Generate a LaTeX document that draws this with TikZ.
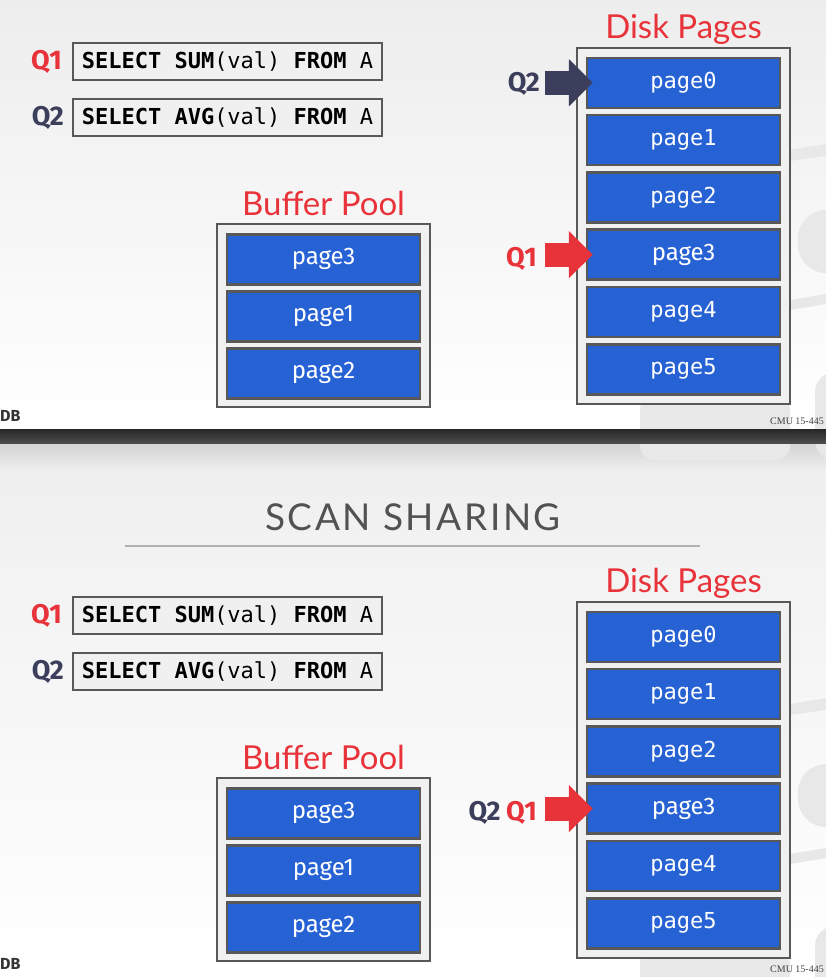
\documentclass[tikz,border=0pt]{standalone}
\usepackage{fontspec}
\setmainfont{Fira Sans}
\newfontfamily\headfont{Lato}
\newfontfamily\titlefont{Lato}[LetterSpace=7]
\newfontfamily\codefont{DejaVu Sans Mono}
\newfontfamily\footfont{Liberation Serif}
\usetikzlibrary{positioning,arrows.meta,calc}

\definecolor{qred}{HTML}{E8333A}
\definecolor{qnavy}{HTML}{3C3F5C}
\definecolor{pageblue}{HTML}{2762D4}
\definecolor{rimgray}{HTML}{585858}
\definecolor{boxgray}{HTML}{F0F0F0}
\definecolor{logogray}{HTML}{E8E8E8}

\begin{document}
\begin{tikzpicture}[x=1pt,y=-1pt]
\tikzset{pagebox/.style={rectangle,draw=rimgray,line width=2.5pt,fill=pageblue,text=white,minimum width=193pt,minimum height=50pt,inner sep=0pt,font=\fontsize{24}{28}\selectfont},
diskpage/.style={pagebox,font=\codefont\fontsize{22}{26}\selectfont},
poolbox/.style={rectangle,draw=rimgray,line width=2pt,fill=boxgray,minimum width=213pt,inner sep=0pt},
querybox/.style={rectangle,draw=rimgray,line width=2pt,fill=boxgray,minimum width=309pt,minimum height=37pt,inner sep=0pt,font=\codefont\fontsize{22}{26}\selectfont},
qlabel/.style={inner sep=0pt,font=\bfseries\fontsize{27}{30}\selectfont},
boxtitle/.style={anchor=base,inner sep=0pt,text=qred,font=\headfont\fontsize{33}{38}\selectfont},
blockarrow/.style={line width=24pt,-{Triangle[length=24pt,width=46pt]}}}
\useasboundingbox (0,0) rectangle (826,977);
% slide backgrounds
\shade[top color=black!7,bottom color=white] (0,0) rectangle (826,429);
\shade[top color=black!17,bottom color=black!6] (0,443) rectangle (826,472);
\shade[top color=black!6,bottom color=white] (0,472) rectangle (826,977);
\foreach \o in {0,554}{
\fill[logogray] (790,150+\o) -- (826,144+\o) -- (826,156+\o) -- (790,161+\o) -- cycle;
\fill[logogray,rounded corners=28pt] (798,210+\o) rectangle (880,273+\o);
\fill[logogray] (790,300+\o) -- (826,294+\o) -- (826,304+\o) -- (790,310+\o) -- cycle;
\fill[logogray,rounded corners=20pt] (815,372+\o) rectangle (880,460+\o);
\fill[logogray,rounded corners=14pt] (640,396+\o) rectangle (790,460+\o);
}
\shade[top color=black!85,bottom color=black!70] (0,429) rectangle (826,443);

\foreach \o/\s/\f in {0/t/0,554/b/548}{
\node[querybox] (sum\s) at (227.5,61.5+\o) {\textbf{SELECT SUM}(val) \textbf{FROM} A};
\node[querybox] (avg\s) at (227.5,117.5+\o) {\textbf{SELECT AVG}(val) \textbf{FROM} A};
\node[qlabel,text=qred,left=10pt of sum\s] (q1\s) {Q1};
\node[qlabel,text=qnavy,left=8pt of avg\s] (q2\s) {Q2};
% buffer pool
\node[poolbox,minimum height=183pt] (pool\s) at (323.5,315.5+\o) {};
\node[boxtitle] (pooltitle\s) at ([yshift=8pt]pool\s.north) {Buffer Pool};
\node[pagebox,below=10pt of pool\s.north] (b3\s) {page3};
\node[pagebox,below=4.5pt of b3\s] (b1\s) {page1};
\node[pagebox,below=4.5pt of b1\s] (b2\s) {page2};
% disk
\node[poolbox,minimum height=356pt] (disk\s) at (683.5,226+\o) {};
\node[boxtitle] (disktitle\s) at ([yshift=9pt]disk\s.north) {Disk Pages};
\node[diskpage,below=9.5pt of disk\s.north] (d0\s) {page0};
\node[diskpage,below=4.8pt of d0\s] (d1\s) {page1};
\node[diskpage,below=4.8pt of d1\s] (d2\s) {page2};
\node[pagebox,below=4.8pt of d2\s] (d3\s) {page3};
\node[diskpage,below=4.8pt of d3\s] (d4\s) {page4};
\node[diskpage,below=4.8pt of d4\s] (d5\s) {page5};
% footer
\node[anchor=base west,inner sep=0pt,text=black!80,font=\bfseries\fontsize{16}{20}\selectfont] (db\s) at (0,421+\f) {DB};
\node[anchor=base west,inner sep=0pt,text=black!75,font=\footfont\fontsize{10}{12}\selectfont] (cmu\s) at (770,424+\f) {CMU 15-445};
}

% title of the second slide
\node[anchor=base,inner sep=0pt,text=black!68,font=\titlefont\fontsize{37}{44}\selectfont] (title) at (413,530) {SCAN SHARING};
\draw[black!30,line width=1.5pt] (125,546) -- (700,546);

% cursors
\node[qlabel,text=qnavy,anchor=east] (q2curt) at (540,84) {Q2};
\draw[blockarrow,qnavy] ($(q2curt.east |- d0t.west)+(5,0)$) -- ($(d0t.west)+(7,0)$);
\node[qlabel,text=qred,anchor=east] (q1curt) at (537,259) {Q1};
\draw[blockarrow,qred] ($(q1curt.east |- d3t.west)+(8,0)$) -- ($(d3t.west)+(7,0)$);
\node[qlabel,text=qred,anchor=east] (q1curb) at (537,813) {Q1};
\node[qlabel,text=qnavy,left=5pt of q1curb] (q2curb) {Q2};
\draw[blockarrow,qred] ($(q1curb.east |- d3b.west)+(8,0)$) -- ($(d3b.west)+(7,0)$);
\end{tikzpicture}
\end{document}
